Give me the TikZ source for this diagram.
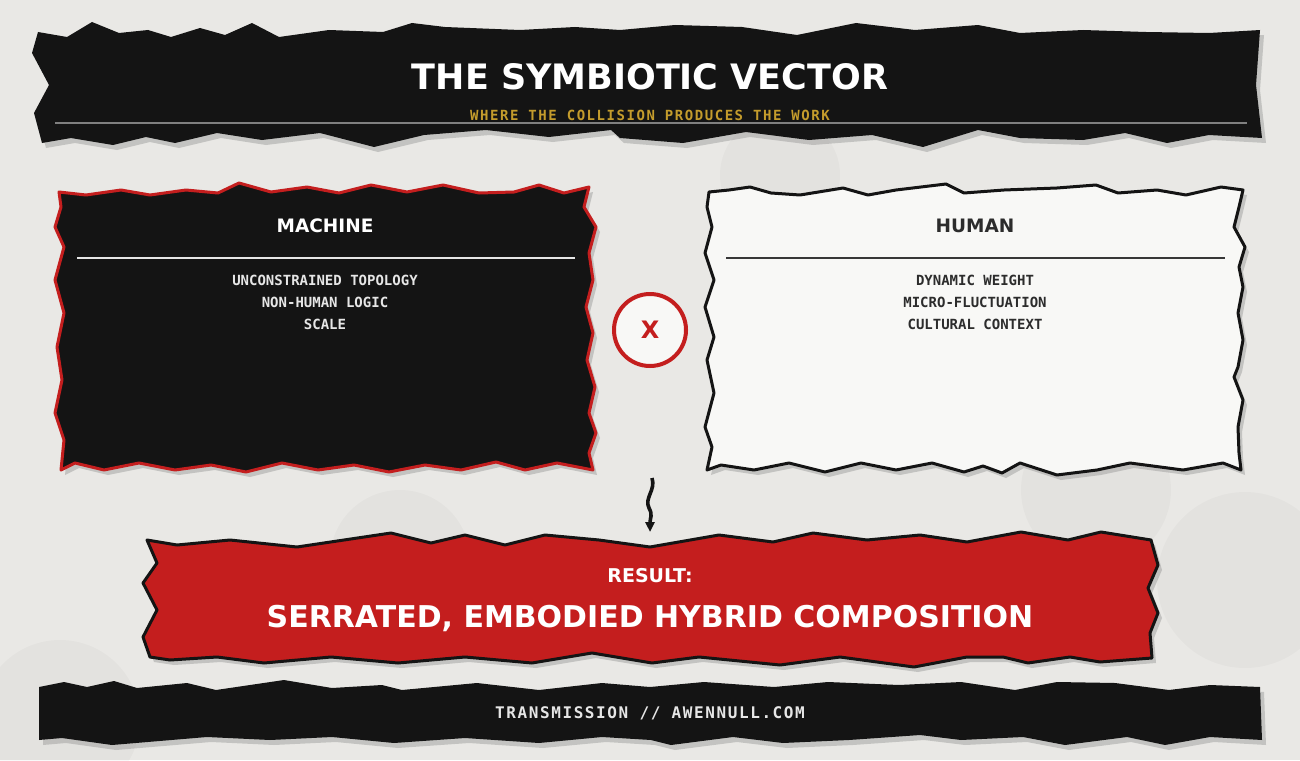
\documentclass[tikz,border=0pt]{standalone}
\usepackage{fontspec}
\setmainfont{DejaVu Sans}
\newfontfamily\monoitem{DejaVu Sans Mono}
\newfontfamily\monosub{DejaVu Sans Mono}[LetterSpace=11]
\newfontfamily\monofoot{DejaVu Sans Mono}[LetterSpace=10]
\usetikzlibrary{arrows.meta}
\definecolor{paper}{HTML}{E9E8E5}
\definecolor{ink}{HTML}{141414}
\definecolor{blood}{HTML}{C41E1E}
\definecolor{gold}{HTML}{C49C2C}
\definecolor{sheet}{HTML}{F8F8F6}
\definecolor{pale}{HTML}{E6E6E6}
\tikzset{
  dropshade/.style={fill=black!45, opacity=.4},
  ghost/.style={fill=black, opacity=.022},
  bandfill/.style={fill=ink},
  machinebox/.style={fill=ink, draw=blood, line width=3pt, line join=round},
  humanbox/.style={fill=sheet, draw=ink, line width=3pt, line join=round},
  resultbox/.style={fill=blood, draw=ink, line width=3pt, line join=round},
  boxhead/.style={font=\bfseries\fontsize{18.5}{22}\selectfont, inner sep=0pt, anchor=base},
  boxitem/.style={font=\monoitem\bfseries\fontsize{14}{16}\selectfont, inner sep=0pt, anchor=base},
}
\def\hdrpath{(38,32) -- (67,37) -- (92,22) -- (119,33) -- (148,30) -- (171,37) -- (200,28) -- (225,35) -- (252,23) -- (279,37) -- (329,30) -- (383,32) -- (412,23) -- (445,27) -- (520,30) -- (575,27) -- (620,30) -- (675,25) -- (742,27) -- (797,35) -- (856,23) -- (915,30) -- (978,25) -- (1020,33) -- (1083,30) -- (1146,32) -- (1209,33) -- (1260,30) -- (1256,85) -- (1262,138) -- (1209,135) -- (1167,143) -- (1125,133) -- (1083,140) -- (1020,138) -- (978,130) -- (923,147) -- (872,135) -- (809,140) -- (746,132) -- (683,143) -- (620,138) -- (611,130) -- (549,137) -- (486,130) -- (424,135) -- (374,147) -- (320,133) -- (262,140) -- (217,133) -- (175,143) -- (146,137) -- (113,145) -- (71,138) -- (42,143) -- (34,113) -- (49,85) -- (32,53) -- cycle}
\def\machinepath{(59,192) -- (86,195) -- (121,190) -- (150,195) -- (186,190) -- (218,193) -- (239,183) -- (271,192) -- (307,187) -- (339,193) -- (371,185) -- (407,192) -- (443,185) -- (479,193) -- (514,192) -- (539,185) -- (564,193) -- (589,187) -- (584,207) -- (596,227) -- (589,253) -- (593,280) -- (586,307) -- (593,333) -- (587,360) -- (595,387) -- (589,413) -- (596,433) -- (589,453) -- (593,470) -- (557,463) -- (525,470) -- (496,462) -- (461,470) -- (425,465) -- (389,472) -- (354,465) -- (318,470) -- (282,463) -- (246,472) -- (211,465) -- (175,470) -- (139,463) -- (104,470) -- (75,463) -- (61,470) -- (64,440) -- (55,413) -- (62,380) -- (57,347) -- (64,313) -- (55,280) -- (64,247) -- (55,227) -- (61,207) -- cycle}
\def\humanpath{(709,192) -- (729,190) -- (750,187) -- (771,193) -- (800,195) -- (843,188) -- (868,195) -- (896,190) -- (946,184) -- (964,193) -- (1004,190) -- (1057,188) -- (1096,185) -- (1118,193) -- (1157,190) -- (1186,195) -- (1221,187) -- (1243,190) -- (1239,207) -- (1234,227) -- (1245,247) -- (1239,267) -- (1243,287) -- (1238,313) -- (1243,340) -- (1238,367) -- (1234,377) -- (1243,400) -- (1238,427) -- (1239,453) -- (1241,470) -- (1223,463) -- (1183,470) -- (1130,463) -- (1097,470) -- (1057,475) -- (1020,463) -- (1002,473) -- (983,466) -- (964,472) -- (932,463) -- (896,470) -- (861,463) -- (825,472) -- (789,463) -- (754,470) -- (721,465) -- (707,470) -- (712,447) -- (705,427) -- (714,393) -- (707,360) -- (714,337) -- (705,307) -- (714,280) -- (705,253) -- (712,227) -- (707,207) -- cycle}
\def\resultpath{(147,540) -- (177,545) -- (230,540) -- (297,547) -- (391,533) -- (431,543) -- (465,535) -- (505,545) -- (545,535) -- (599,540) -- (650,547) -- (719,535) -- (773,542) -- (813,533) -- (867,540) -- (920,535) -- (967,542) -- (1021,532) -- (1068,540) -- (1101,532) -- (1151,540) -- (1158,565) -- (1148,588) -- (1158,613) -- (1150,633) -- (1152,658) -- (1100,662) -- (1070,657) -- (1028,663) -- (1003,657) -- (967,657) -- (914,667) -- (840,657) -- (780,665) -- (699,657) -- (652,663) -- (592,653) -- (532,663) -- (465,657) -- (398,663) -- (331,657) -- (264,663) -- (217,657) -- (170,660) -- (150,657) -- (143,637) -- (157,610) -- (143,583) -- (157,563) -- cycle}
\def\footpath{(39,687) -- (64,682) -- (87,687) -- (114,681) -- (137,688) -- (187,683) -- (216,690) -- (284,680) -- (332,688) -- (382,685) -- (402,690) -- (477,683) -- (539,690) -- (602,683) -- (650,687) -- (704,682) -- (774,687) -- (828,682) -- (899,685) -- (961,682) -- (1015,690) -- (1057,682) -- (1115,683) -- (1169,690) -- (1210,685) -- (1260,687) -- (1262,740) -- (1210,737) -- (1165,745) -- (1127,737) -- (1065,745) -- (1023,737) -- (961,740) -- (920,735) -- (849,740) -- (783,743) -- (733,737) -- (671,745) -- (651,740) -- (602,737) -- (539,743) -- (465,738) -- (394,743) -- (332,737) -- (270,740) -- (207,737) -- (112,745) -- (62,738) -- (39,740) -- cycle}
\begin{document}
\begin{tikzpicture}[x=1pt,y=-1pt]
% page
\fill[paper] (0,0) rectangle (1300,760);
\useasboundingbox (0,0) rectangle (1300,760);
% faint background discs
\fill[ghost] (1096,490) circle (75);
\fill[ghost] (1245,580) circle (88);
\fill[ghost] (780,175) circle (60);
\fill[ghost] (400,560) circle (70);
\fill[ghost] (60,720) circle (80);
% shadows
\begin{scope}[shift={(4,5)}]
  \fill[dropshade] \hdrpath;
  \fill[dropshade] \machinepath;
  \fill[dropshade] \humanpath;
  \fill[dropshade] \resultpath;
  \fill[dropshade] \footpath;
\end{scope}
% header band
\fill[bandfill] \hdrpath;
\draw[black!50, line width=2pt] (55,123) -- (1247,123);
\node[inner sep=0pt, anchor=base, text=white, font=\bfseries\fontsize{35}{40}\selectfont] (title) at (650,89) {THE SYMBIOTIC VECTOR};
\node[inner sep=0pt, anchor=base, text=gold, font=\monosub\bfseries\fontsize{14}{16}\selectfont] (subtitle) at (650,120) {WHERE THE COLLISION PRODUCES THE WORK};
% machine box
\draw[machinebox] \machinepath;
\node[boxhead, text=white] (machine) at (325,232) {MACHINE};
\draw[pale, line width=2pt] (77,258) -- (575,258);
\node[boxitem, text=pale] (m1) at (325,285) {UNCONSTRAINED TOPOLOGY};
\node[boxitem, text=pale] (m2) at (325,307) {NON-HUMAN LOGIC};
\node[boxitem, text=pale] (m3) at (325,329) {SCALE};
% human box
\draw[humanbox] \humanpath;
\node[boxhead, text=ink!90] (human) at (975,232) {HUMAN};
\draw[ink!85, line width=2pt] (726,258) -- (1225,258);
\node[boxitem, text=ink!90] (h1) at (975,285) {DYNAMIC WEIGHT};
\node[boxitem, text=ink!90] (h2) at (975,307) {MICRO-FLUCTUATION};
\node[boxitem, text=ink!90] (h3) at (975,329) {CULTURAL CONTEXT};
% collision mark
\node[circle, draw=blood, fill=sheet, line width=4pt, minimum size=72pt, inner sep=0pt,
      text=blood, font=\bfseries\fontsize{24}{28}\selectfont] (cross) at (650,330) {X};
% result box
\draw[resultbox] \resultpath;
\node[inner sep=0pt, anchor=base, text=white, font=\bfseries\fontsize{19}{22}\selectfont] (resultlabel) at (650,582) {RESULT:};
\node[inner sep=0pt, anchor=base, text=white, font=\bfseries\fontsize{30}{34}\selectfont] (result) at (650,627) {SERRATED, EMBODIED HYBRID COMPOSITION};
% connector
\coordinate (arrowfrom) at (652,478);
\coordinate (arrowto) at (650,532);
\draw[ink, line width=3.6pt, -{Triangle[length=10pt,width=9pt]}] (arrowfrom) .. controls (656,490) and (644,498) .. (649,508) .. controls (653,515) and (650,518) .. (arrowto);
% footer band
\fill[bandfill] \footpath;
\node[inner sep=0pt, anchor=base, text=pale, font=\monofoot\bfseries\fontsize{16}{18}\selectfont] (footer) at (650,718) {TRANSMISSION // AWENNULL.COM};
\end{tikzpicture}
\end{document}
